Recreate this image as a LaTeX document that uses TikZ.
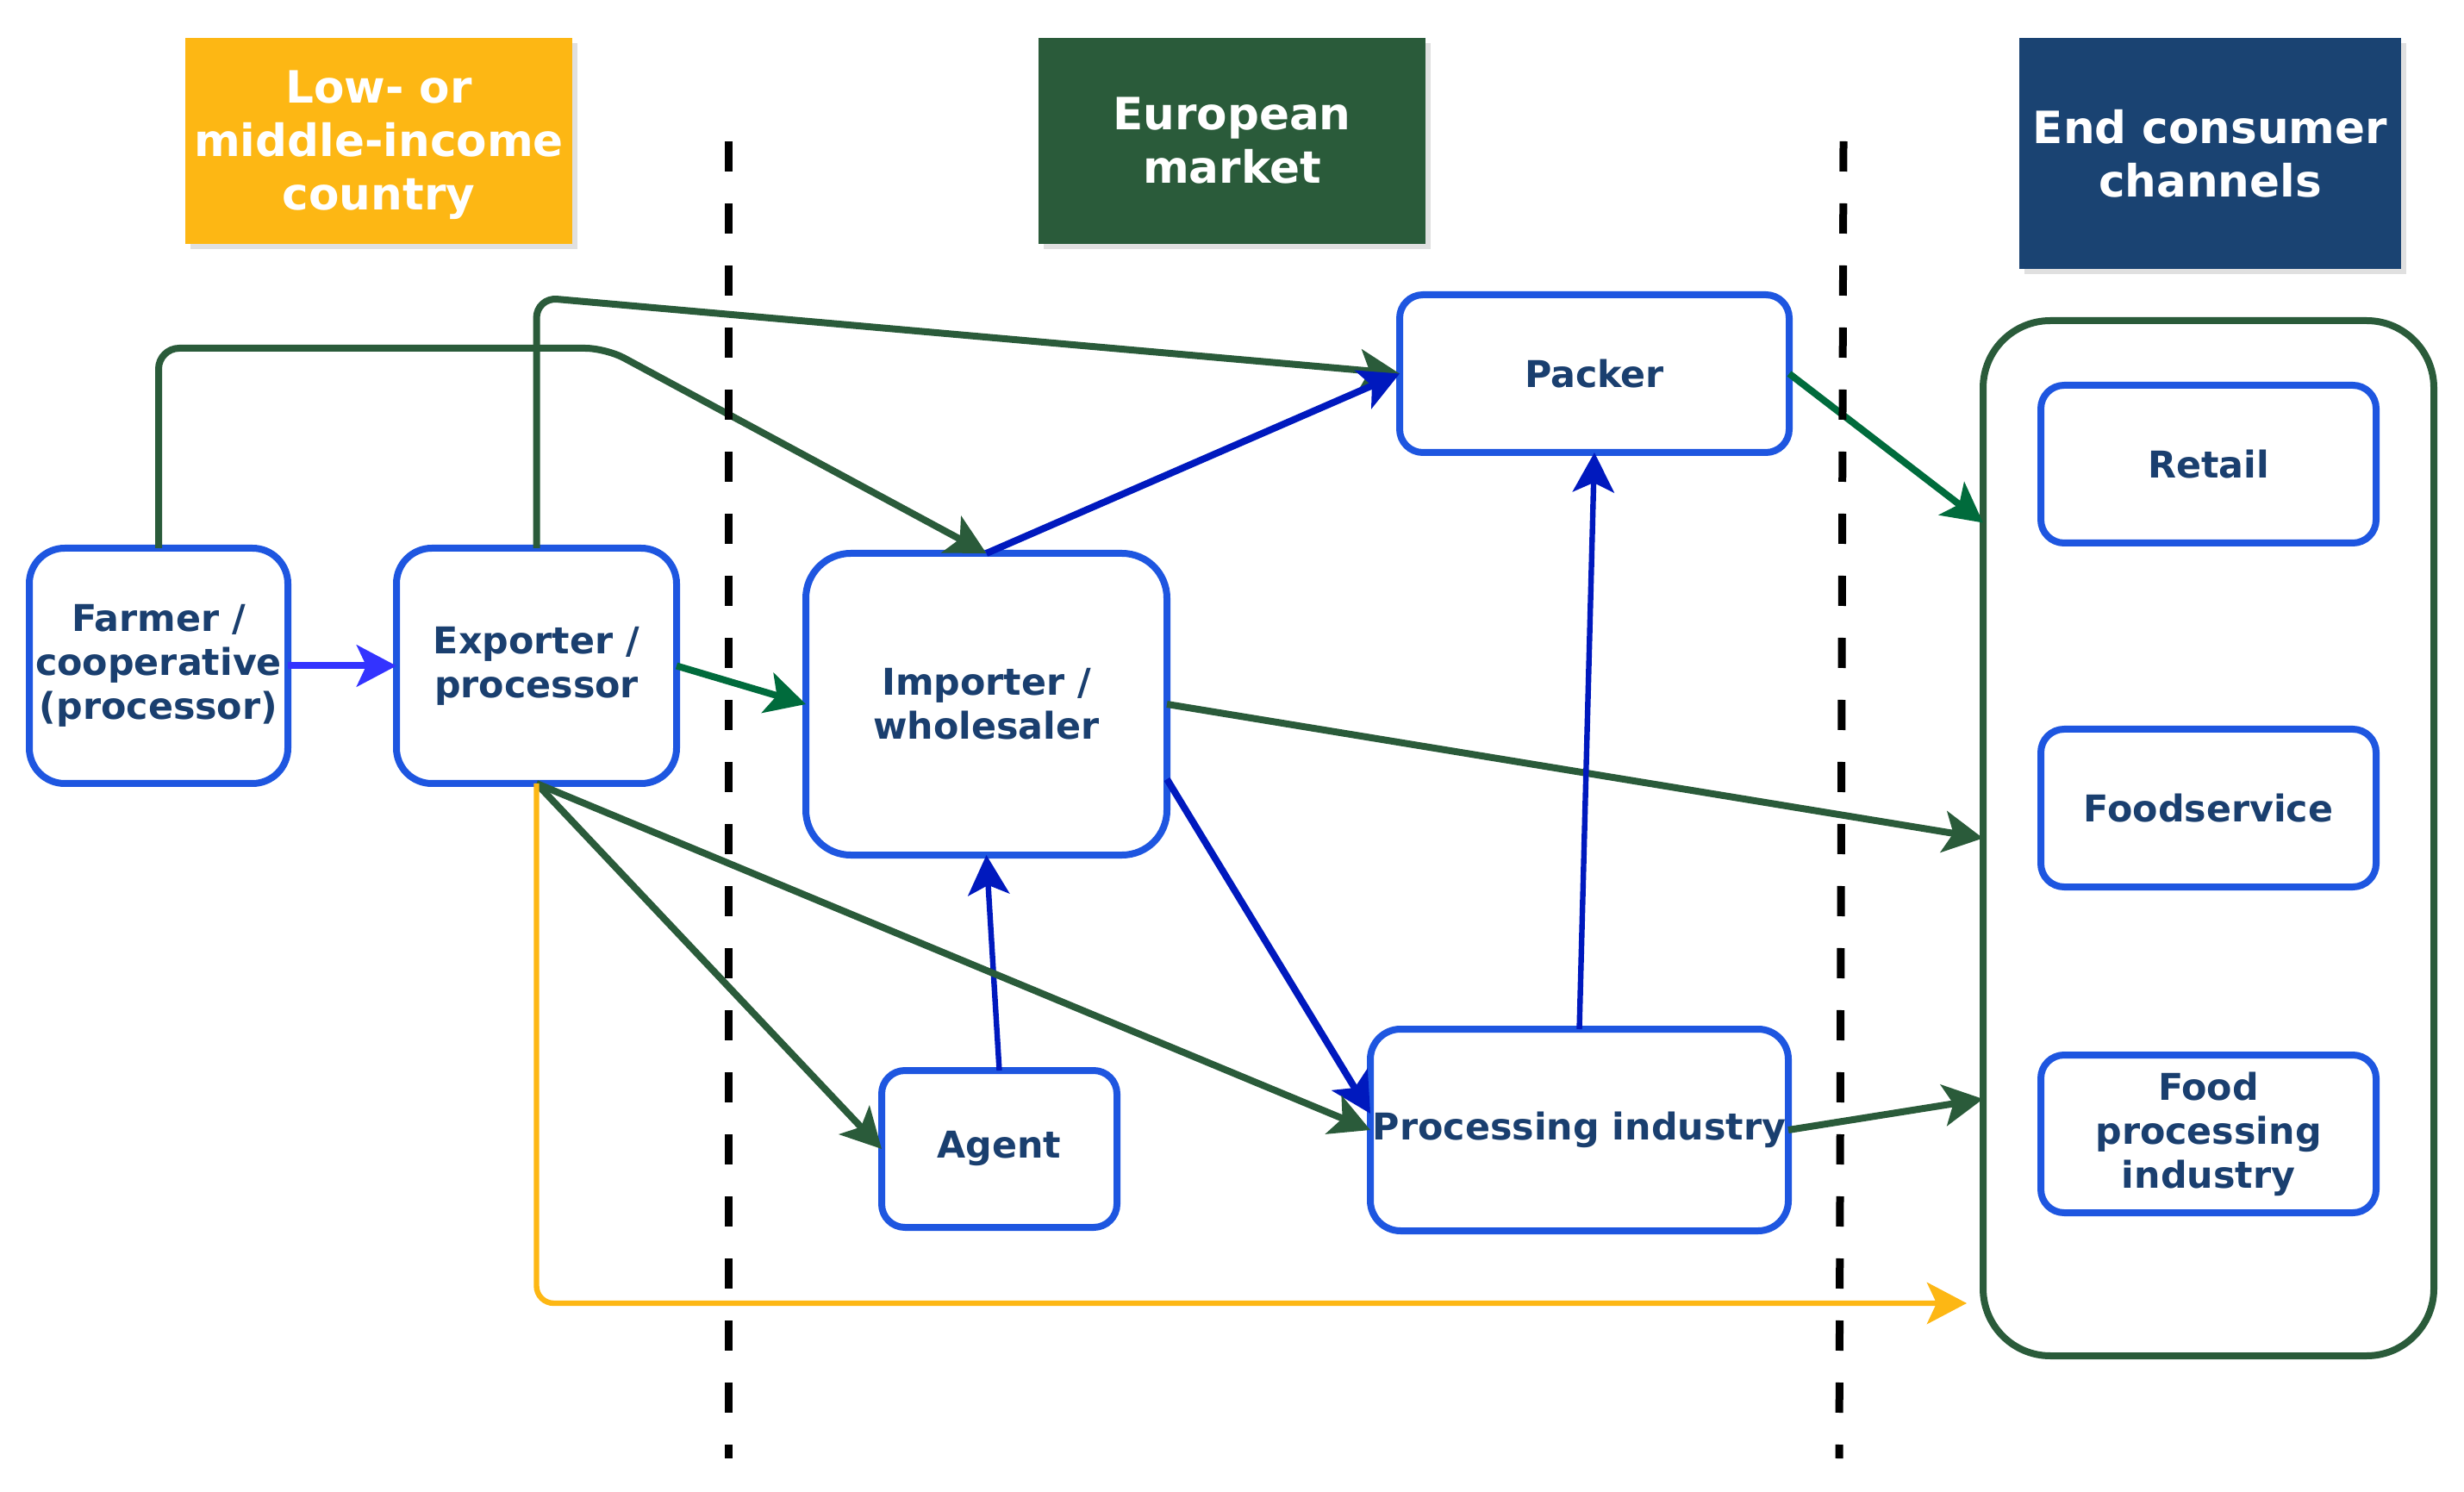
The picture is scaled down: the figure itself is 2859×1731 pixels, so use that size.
\documentclass[tikz,border=0pt]{standalone}
\usepackage{fontspec}
\setmainfont{DejaVu Sans}
\usetikzlibrary{arrows.meta,shadows,calc}
\definecolor{hyellow}{HTML}{FDB714}
\definecolor{hgreen}{HTML}{2A5B3A}
\definecolor{hblue}{HTML}{1A4372}
\definecolor{nodeblue}{HTML}{1E56E0}
\definecolor{nodetext}{HTML}{1A3F6F}
\definecolor{dgreen}{HTML}{2A5B3A}
\definecolor{bgreen}{HTML}{006B3C}
\definecolor{dblue}{HTML}{0019BE}
\definecolor{vblue}{HTML}{3333FF}
\newcommand\mynodefont{\fontsize{10.7}{12.75}\selectfont\bfseries}
\newcommand\myheadfont{\fontsize{12.9}{15.5}\selectfont\bfseries}
\tikzset{
  box/.style={draw=nodeblue, line width=2pt, fill=white, outer sep=0pt, inner sep=0pt, align=center, font=\mynodefont, text=nodetext},
  hdr/.style={outer sep=0pt, inner sep=0pt, align=center, font=\myheadfont, text=white,
    drop shadow={shadow xshift=1.5pt, shadow yshift=-1.5pt, opacity=0.12, fill=black}},
  arr/.style={-{Stealth[length=11.5pt,width=12pt,inset=2.75pt]}},
  conn/.style={line width=2pt, arr},
  cdg/.style={conn, draw=dgreen},
  cbg/.style={conn, draw=bgreen},
  cdb/.style={conn, draw=dblue},
  cdbt/.style={cdb, line width=1.6pt},
  cvb/.style={conn, draw=vblue},
  cyl/.style={conn, line width=1.6pt, draw=hyellow},
  dashln/.style={line width=2.25pt, black, dash pattern=on 8.75pt off 9.25pt}
}
\begin{document}
\begin{tikzpicture}[x=0.25pt,y=-0.25pt]
\useasboundingbox (0,0) rectangle (2859,1731);

% headers
\node[hdr, fill=hyellow, minimum width=112.25pt, minimum height=59.75pt] (h1) at (439.5,163.5) {};
\node[align=center, font=\myheadfont, text=white, inner sep=0pt] (h1t) at (439.5,168) {Low- or\\middle-income\\country};
\node[hdr, fill=hgreen, minimum width=112.25pt, minimum height=59.75pt] (h2) at (1429.5,163.5) {European\\market};
\node[hdr, fill=hblue, minimum width=110.75pt, minimum height=67pt] (h3) at (2564.5,178) {End consumer\\channels};

% container
\node[draw=dgreen, line width=2pt, fill=white, outer sep=0pt, rounded corners=19.5pt, minimum width=130.75pt, minimum height=300.25pt] (container) at (2562.5,972.5) {};

% nodes
\node[box, minimum width=75pt, minimum height=68.25pt, rounded corners=10.25pt] (farmer) at (184,772.5) {Farmer /\\cooperative\\(processor)};
\node[box, minimum width=81.25pt, minimum height=68.25pt, rounded corners=10.25pt] (exporter) at (622.5,772.5) {Exporter /\\processor};
\node[box, minimum width=104.75pt, minimum height=87.5pt, rounded corners=13pt] (importer) at (1144.5,817) {Importer /\\wholesaler};
\node[box, minimum width=113pt, minimum height=45.75pt, rounded corners=6.75pt] (packer) at (1850,433.5) {Packer};
\node[box, minimum width=121.25pt, minimum height=58.5pt, rounded corners=8.75pt] (processing) at (1832.5,1311) {Processing industry};
\node[box, minimum width=68.25pt, minimum height=45.5pt, rounded corners=6.75pt] (agent) at (1159.5,1333) {Agent};
\node[box, minimum width=97.25pt, minimum height=45.75pt, rounded corners=6.75pt] (retail) at (2562.5,538.5) {Retail};
\node[box, minimum width=97.25pt, minimum height=45.75pt, rounded corners=6.75pt] (foodservice) at (2562.5,937.5) {Foodservice};
\node[box, minimum width=97.25pt, minimum height=45.75pt, rounded corners=6.75pt] (foodproc) at (2562.5,1315.5) {Food\\processing\\industry};

% helper coordinates
\coordinate (b1) at (703,404);
\coordinate (b2) at (622.5,345);
\coordinate (cin1) at ($(container.west)+(0,-366)$);
\coordinate (cin3) at ($(container.west)+(0,302.5)$);
\coordinate (yend) at ($(container.west)+(-19,539.5)$);
\coordinate (imp8) at ($(importer.east)+(0,87)$);
\coordinate (proc8) at ($(processing.west)+(0,-19)$);

% connectors
\draw[cvb] (farmer.east) -- (exporter.west);
\draw[cbg] (exporter.east) -- (importer.west);
\draw[cdg, rounded corners=6pt] (farmer.north) |- (b1) -- (importer.north);
\draw[cdg, rounded corners=6pt] (exporter.north) -- (b2) -- (packer.west);
\draw[cdb] (importer.north) -- (packer.west);
\draw[cbg] (packer.east) -- (cin1);
\draw[cdg] (importer.east) -- (container.west);
\draw[cdb] (imp8) -- (proc8);
\draw[cdbt] (processing.north) -- (packer.south);
\draw[cdbt] (agent.north) -- (importer.south);
\draw[cdg] (exporter.south) -- (agent.west);
\draw[cdg] (exporter.south) -- (processing.west);
\draw[cdg] (processing.east) -- (cin3);
\draw[cyl, rounded corners=5pt] (exporter.south) |- (yend);

% dashed separators
\coordinate (d1a) at (845,164);
\coordinate (d1b) at (845,1692);
\coordinate (d2a) at (2139,164);
\coordinate (d2b) at (2134,1692);
\draw[dashln] (d1a) -- (d1b);
\draw[dashln] (d2a) -- (d2b);
\end{tikzpicture}
\end{document}
